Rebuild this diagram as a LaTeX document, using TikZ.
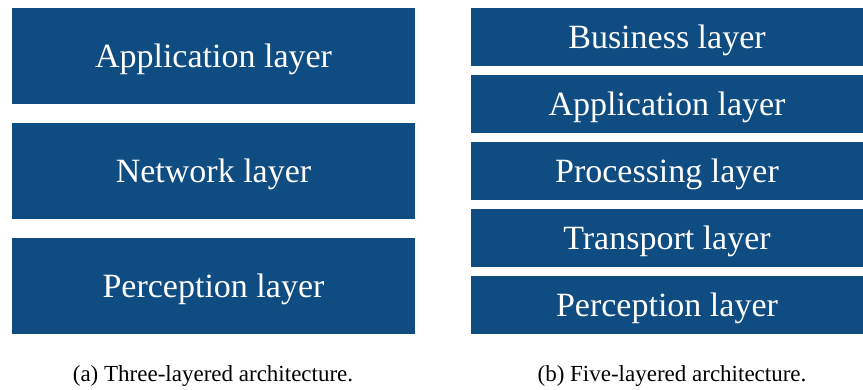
\documentclass[tikz,border=0pt]{standalone}
\usepackage{fontspec}
\setmainfont{Liberation Serif}
\usepackage{xcolor}
\usepackage{tikz}
\usetikzlibrary{positioning}

\definecolor{layerblue}{HTML}{0F4C81}

\begin{document}
\begin{tikzpicture}[x=1pt, y=-1pt,
    layer/.style={fill=layerblue, text=white, inner sep=0pt,
      text height=23pt, text depth=0pt,
      font=\fontsize{34}{40}\selectfont},
    big/.style={layer, minimum width=403pt, minimum height=96pt},
    thin/.style={layer, minimum width=392pt, minimum height=58pt},
    capt/.style={anchor=base, font=\fontsize{23}{27}\selectfont}
  ]
    \useasboundingbox (0,0) rectangle (863,389);

    % (a) three layers
    \node[big] (app3) at (213.5,56)  {Application layer};
    \node[big] (net3) at (213.5,171) {Network layer};
    \node[big] (per3) at (213.5,286) {Perception layer};

    % (b) five layers
    \foreach \n/\y/\t in {bus5/37/Business layer, app5/104/Application layer,
        pro5/171/Processing layer, tra5/238/Transport layer,
        per5/305/Perception layer} {
      \node[thin] (\n) at (667,\y) {\t};
    }

    \node[capt] (capa) at (213,381) {(a) Three-layered architecture.};
    \node[capt] (capb) at (672,381) {(b) Five-layered architecture.};
  \end{tikzpicture}
\end{document}
